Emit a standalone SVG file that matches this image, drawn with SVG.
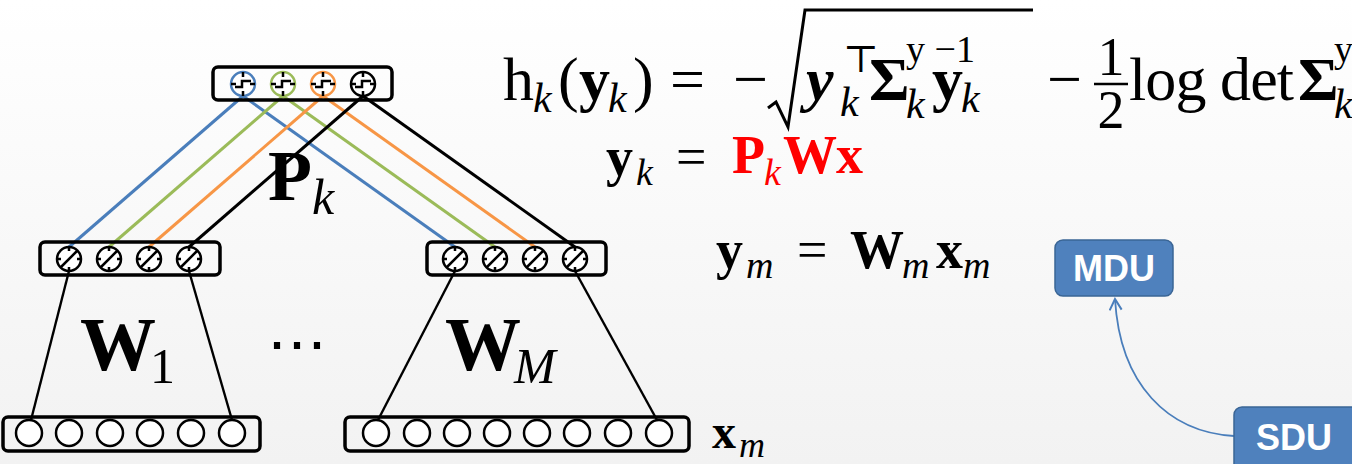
<svg xmlns="http://www.w3.org/2000/svg" width="1352" height="464" viewBox="0 0 1352 464">
<defs>
<linearGradient id="bg" x1="0" y1="0" x2="0" y2="1">
<stop offset="0" stop-color="#ffffff"/>
<stop offset="1" stop-color="#f2f2f2"/>
</linearGradient>
<marker id="arr" markerWidth="14" markerHeight="14" refX="12" refY="7" orient="auto" markerUnits="userSpaceOnUse">
<path d="M1,1 L12,7 L1,13" fill="none" stroke="#4a7ebb" stroke-width="2"/>
</marker>
<g id="stepN">
<circle r="12" fill="#fff" stroke-width="2.5"/>
<path d="M0,-12 V-7 M0,7 V12 M-12,0 H-7 M7,0 H12 M-8,3 H-1 V-3 H8" fill="none" stroke="#000" stroke-width="2.5"/>
</g>
<g id="linN">
<circle r="12" fill="#fff" stroke="#000" stroke-width="2.5"/>
<path d="M0,-12 V-8 M0,8 V12 M-12,0 H-8 M8,0 H12 M-8,8 L8,-8" fill="none" stroke="#000" stroke-width="2.5"/>
</g>
</defs>
<style>
.box{fill:none;stroke:#000;stroke-width:3.5}
.in{fill:#fff;stroke:#000;stroke-width:2.5}
.edge{stroke-width:3;fill:none}
.tl{stroke:#000;stroke-width:2.4;fill:none}
.m{font-family:"Liberation Serif","DejaVu Serif",serif;fill:#000}
.b{font-weight:bold}
.i{font-style:italic}
.red{fill:#ff0000}
.node rect.u{fill:#4f81bd;stroke:#3a6595;stroke-width:1.5}
.lbl{font-family:"Liberation Sans",Arial,sans-serif;font-weight:bold;font-size:36px;fill:#fff;text-anchor:middle}
</style>
<rect x="0" y="0" width="1352" height="464" fill="url(#bg)"/>

<g id="connectors">
<line class="edge" stroke="#4a7ebb" x1="243" y1="96" x2="69" y2="247"/>
<line class="edge" stroke="#4a7ebb" x1="243" y1="96" x2="455" y2="247"/>
<line class="edge" stroke="#9bbb59" x1="283" y1="96" x2="109" y2="247"/>
<line class="edge" stroke="#9bbb59" x1="283" y1="96" x2="495" y2="247"/>
<line class="edge" stroke="#f79646" x1="323" y1="96" x2="149" y2="247"/>
<line class="edge" stroke="#f79646" x1="323" y1="96" x2="535" y2="247"/>
<line class="edge" stroke="#000" x1="363" y1="96" x2="189" y2="247"/>
<line class="edge" stroke="#000" x1="363" y1="96" x2="575" y2="247"/>
<line class="tl" x1="69" y1="271" x2="31" y2="420"/>
<line class="tl" x1="189" y1="271" x2="232" y2="420"/>
<line class="tl" x1="455" y1="271" x2="378" y2="420"/>
<line class="tl" x1="575" y1="271" x2="657" y2="420"/>
<path d="M1234,436 C1168,432 1120,385 1115,299" fill="none" stroke="#4a7ebb" stroke-width="1.8" marker-end="url(#arr)"/>
</g>

<g id="top-layer">
<rect class="box" x="213" y="67" width="179" height="33" rx="5"/>
<use href="#stepN" x="243" y="84" stroke="#4a7ebb"/>
<use href="#stepN" x="283" y="84" stroke="#9bbb59"/>
<use href="#stepN" x="323" y="84" stroke="#f79646"/>
<use href="#stepN" x="363" y="84" stroke="#000"/>
</g>

<g id="mid-left">
<rect class="box" x="40" y="242" width="180" height="33" rx="5"/>
<use href="#linN" x="69" y="259"/>
<use href="#linN" x="109" y="259"/>
<use href="#linN" x="149" y="259"/>
<use href="#linN" x="189" y="259"/>
</g>

<g id="mid-right">
<rect class="box" x="427" y="242" width="179" height="33" rx="5"/>
<use href="#linN" x="455" y="259"/>
<use href="#linN" x="495" y="259"/>
<use href="#linN" x="535" y="259"/>
<use href="#linN" x="575" y="259"/>
</g>

<g id="input-left">
<rect class="box" x="3" y="417" width="257" height="34" rx="5"/>
<circle class="in" cx="29" cy="433" r="13"/>
<circle class="in" cx="69" cy="433" r="13"/>
<circle class="in" cx="110" cy="433" r="13"/>
<circle class="in" cx="150" cy="433" r="13"/>
<circle class="in" cx="191" cy="433" r="13"/>
<circle class="in" cx="232" cy="433" r="13"/>
</g>

<g id="input-right">
<rect class="box" x="345" y="417" width="344" height="34" rx="5"/>
<circle class="in" cx="376" cy="433" r="13"/>
<circle class="in" cx="417" cy="433" r="13"/>
<circle class="in" cx="457" cy="433" r="13"/>
<circle class="in" cx="497" cy="433" r="13"/>
<circle class="in" cx="537" cy="433" r="13"/>
<circle class="in" cx="577" cy="433" r="13"/>
<circle class="in" cx="618" cy="433" r="13"/>
<circle class="in" cx="659" cy="433" r="13"/>
</g>

<g id="labels">
<text class="m b" x="268" y="200" font-size="72">P</text>
<text class="m i" x="312" y="214" font-size="50">k</text>
<text class="m b" x="80" y="370" font-size="76">W</text>
<text class="m" x="150" y="383" font-size="50">1</text>
<text class="m b" x="445" y="370" font-size="76">W</text>
<text class="m i" x="514" y="383" font-size="50">M</text>
<text x="297" y="365" font-size="60" text-anchor="middle" font-family="'DejaVu Serif',serif">⋯</text>
<text class="m b" x="712" y="448" font-size="48">x</text>
<text class="m i" x="739" y="457" font-size="36">m</text>
</g>

<g id="formula-h">
<text class="m" x="503" y="100" font-size="62">h</text>
<text class="m i" x="533" y="112" font-size="42">k</text>
<text class="m" x="558" y="100" font-size="62">(</text>
<text class="m b" x="579" y="100" font-size="62">y</text>
<text class="m i" x="608" y="112" font-size="42">k</text>
<text class="m" x="633" y="100" font-size="62">)</text>
<text class="m" x="670" y="100" font-size="62" textLength="42">=</text>
<text class="m" x="733" y="100" font-size="62">−</text>
<path d="M768,108 L776,102 L788,127 L805,10 H1033" fill="none" stroke="#000" stroke-width="3"/>
<text class="m b i" x="806" y="100" font-size="62">y</text>
<text class="m" x="843" y="72" font-size="38">⊤</text>
<text class="m i" x="840" y="116" font-size="42">k</text>
<text class="m b" x="869" y="100" font-size="62">Σ</text>
<text class="m" x="906" y="62" font-size="38">y −1</text>
<text class="m i" x="906" y="118" font-size="42">k</text>
<text class="m b" x="932" y="100" font-size="62">y</text>
<text class="m i" x="961" y="112" font-size="42">k</text>
<text class="m" x="1047" y="100" font-size="62">−</text>
<text class="m" x="1111" y="75" font-size="54" text-anchor="middle">1</text>
<line x1="1094" y1="84" x2="1128" y2="84" stroke="#000" stroke-width="2.5"/>
<text class="m" x="1111" y="128" font-size="54" text-anchor="middle">2</text>
<text class="m" x="1129" y="100" font-size="62" textLength="165">log det</text>
<text class="m b" x="1298" y="100" font-size="62">Σ</text>
<text class="m" x="1334" y="62" font-size="38">y</text>
<text class="m i" x="1334" y="118" font-size="42">k</text>
</g>

<g id="formula-yk">
<text class="m b" x="606" y="175" font-size="54">y</text>
<text class="m i" x="636" y="185" font-size="38">k</text>
<text class="m" x="676" y="175" font-size="54" textLength="36">=</text>
<text class="m b red" x="732" y="173" font-size="54">P</text>
<text class="m i red" x="764" y="185" font-size="38">k</text>
<text class="m b red" x="783" y="173" font-size="54">W</text>
<text class="m b red" x="836" y="173" font-size="54">x</text>
</g>

<g id="formula-ym">
<text class="m b" x="716" y="268" font-size="54">y</text>
<text class="m i" x="746" y="278" font-size="38">m</text>
<text class="m" x="797" y="268" font-size="54" textLength="36">=</text>
<text class="m b" x="850" y="268" font-size="54">W</text>
<text class="m i" x="902" y="278" font-size="38">m</text>
<text class="m b" x="936" y="268" font-size="54">x</text>
<text class="m i" x="963" y="278" font-size="38">m</text>
</g>

<g id="mdu" class="node">
<rect class="u" x="1055" y="240" width="118" height="56" rx="8"/>
<text class="lbl" x="1114" y="281">MDU</text>
</g>
<g id="sdu" class="node">
<rect class="u" x="1234" y="407" width="125" height="66" rx="8"/>
<text class="lbl" x="1294" y="450">SDU</text>
</g>
</svg>
